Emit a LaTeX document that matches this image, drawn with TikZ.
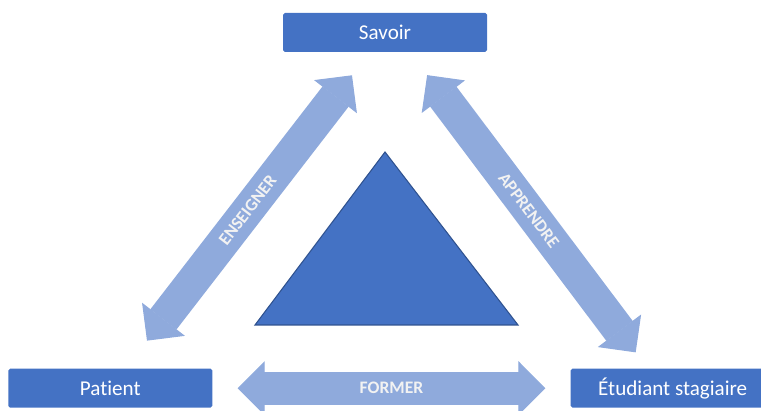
\documentclass[tikz,border=0pt]{standalone}
\usepackage{fontspec}
\setmainfont{Carlito}[Ligatures=NoCommon]
\usepackage{xcolor}
\usetikzlibrary{positioning,arrows.meta}

\definecolor{boxblue}{HTML}{4472C4}
\definecolor{arrowblue}{HTML}{8FAADC}
\definecolor{edgeblue}{HTML}{2F528F}

\begin{document}
\begin{tikzpicture}[
    pole/.style={fill=boxblue, rounded corners=1pt, text=white, inner sep=0pt,
                 font=\fontsize{12}{14}\selectfont,
                 minimum width=4.08cm, minimum height=0.78cm},
    fat/.style={draw=arrowblue, line width=0.66cm,
                {Triangle[length=0.54cm, width=1.08cm, line width=0.6pt]}-{Triangle[length=0.54cm, width=1.08cm, line width=0.6pt]}},
    lbl/.style={text=white!95!black, inner sep=0pt, font=\fontsize{10}{12}\selectfont\bfseries},
  ]
    \useasboundingbox (0,0) rectangle (15.22,8.2);
    \node[pole] (savoir) at (7.70,7.55) {Savoir};
    \node[pole, below left=6.32cm and 1.40cm of savoir] (patient) {Patient};
    \node[pole, below right=6.32cm and 1.66cm of savoir] (etudiant) {Étudiant stagiaire};
    \filldraw[fill=boxblue, draw=edgeblue, line width=0.6pt] (5.10,1.70) -- (7.70,5.16) -- (10.36,1.70) -- cycle;
    \draw[fat, shorten <=0.70cm, shorten >=0.58cm] (patient) -- (savoir)
        node[lbl, midway, sloped] {ENSEIGNER};
    \draw[fat, shorten <=0.57cm, shorten >=0.40cm] ([xshift=5mm]savoir.south) -- ([xshift=-5mm]etudiant.north)
        node[lbl, midway, sloped] {APPRENDRE};
    \draw[fat, shorten <=0.50cm, shorten >=0.50cm] (patient) -- (etudiant)
        node[lbl, midway] {FORMER};
  \end{tikzpicture}
\end{document}
